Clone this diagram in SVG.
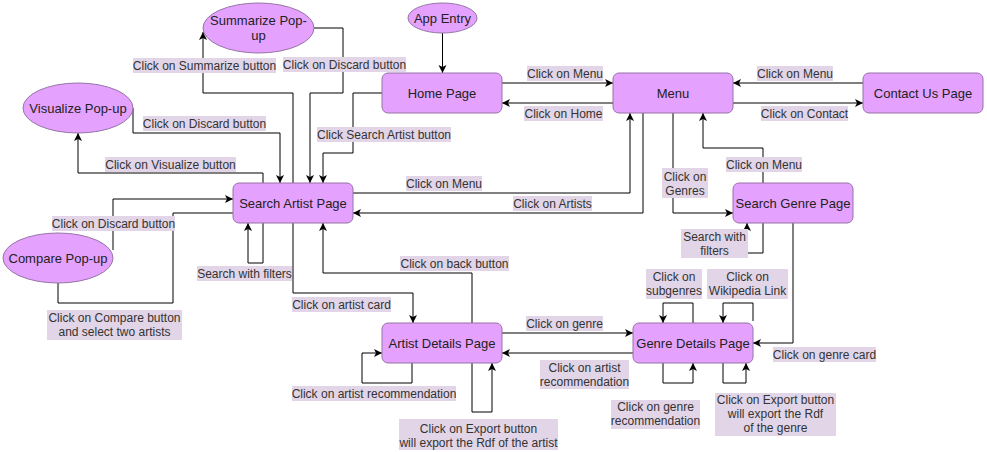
<svg xmlns="http://www.w3.org/2000/svg" width="987" height="452" viewBox="0 0 987 452">
<style>
.n{fill:#E5A1FE;stroke:#9673A6;stroke-width:1}
.nt{font-family:"Liberation Sans",Arial,sans-serif;font-size:13px;fill:#222;text-anchor:middle}
.e{fill:none;stroke:#000;stroke-width:1}
.a{marker-end:url(#arr)}
.lb{fill:#E1D5E7}
.lt{font-family:"Liberation Sans",Arial,sans-serif;font-size:12px;fill:#333;text-anchor:middle}
</style>
<defs>
<marker id="arr" markerUnits="userSpaceOnUse" markerWidth="10" markerHeight="10" refX="8" refY="4" orient="auto" viewBox="0 0 10 8">
<path d="M0,0 L8,4 L0,8 L2,4 Z" fill="#000"/>
</marker>
</defs>
<rect width="987" height="452" fill="#fff"/>
<g id="connectors">
<path class="e a" d="M442.5,33 V73"/>
<path class="e a" d="M502,83 H613"/>
<path class="e a" d="M613,103 H502"/>
<path class="e a" d="M863,83 H733"/>
<path class="e a" d="M733,103 H863"/>
<path class="e a" d="M314,28 H343 V93 H310 V183"/>
<path class="e a" d="M293,183 V93 H203 V32"/>
<path class="e a" d="M133,108 V133 H280 V183"/>
<path class="e a" d="M263,183 V173 H78 V133"/>
<path class="e a" d="M382,93 H353 V153 H323 V183"/>
<path class="e a" d="M353,193 H630 V113"/>
<path class="e a" d="M643,113 V213 H353"/>
<path class="e a" d="M673,113 V213 H733"/>
<path class="e a" d="M763,183 V148 H703 V113"/>
<path class="e a" d="M763,223 V253 H747 V223"/>
<path class="e a" d="M793,223 V343 H753"/>
<path class="e a" d="M263,223 V263 H248 V223"/>
<path class="e a" d="M113,250 V199 H233"/>
<path class="e" d="M233,213 H173 V303 H58 V283"/>
<path class="e a" d="M293,223 V293 H413 V323"/>
<path class="e a" d="M472,323 V273 H323 V223"/>
<path class="e a" d="M502,333 H633"/>
<path class="e a" d="M633,353 H502"/>
<path class="e a" d="M412,363 V383 H362 V353 H382"/>
<path class="e a" d="M472,363 V412 H492 V363"/>
<path class="e a" d="M693,323 V303 H663 V323"/>
<path class="e a" d="M753,321 V303 H723 V323"/>
<path class="e a" d="M663,363 V383 H693 V363"/>
<path class="e a" d="M723,363 V383 H746 V363"/>
</g>
<g id="edge-labels">
<rect class="lb" x="133" y="58" width="143" height="15"/><text class="lt" x="204.5" y="70">Click on Summarize button</text>
<rect class="lb" x="283" y="57" width="123" height="15"/><text class="lt" x="344.5" y="69">Click on Discard button</text>
<rect class="lb" x="143" y="116" width="123" height="15"/><text class="lt" x="204.5" y="128">Click on Discard button</text>
<rect class="lb" x="105" y="157" width="131" height="15"/><text class="lt" x="170.5" y="169">Click on Visualize button</text>
<rect class="lb" x="317" y="127" width="134" height="15"/><text class="lt" x="384" y="139">Click Search Artist button</text>
<rect class="lb" x="527" y="66" width="76" height="15"/><text class="lt" x="565" y="78">Click on Menu</text>
<rect class="lb" x="524" y="106" width="79" height="15"/><text class="lt" x="563.5" y="118">Click on Home</text>
<rect class="lb" x="757" y="66" width="76" height="15"/><text class="lt" x="795" y="78">Click on Menu</text>
<rect class="lb" x="761" y="106" width="87" height="15"/><text class="lt" x="804.5" y="118">Click on Contact</text>
<rect class="lb" x="406" y="176" width="76" height="15"/><text class="lt" x="444" y="188">Click on Menu</text>
<rect class="lb" x="513" y="196" width="79" height="15"/><text class="lt" x="552.5" y="208">Click on Artists</text>
<rect class="lb" x="662" y="168" width="46" height="30"/><text class="lt" x="685" y="181">Click on</text><text class="lt" x="685" y="195">Genres</text>
<rect class="lb" x="726" y="157" width="76" height="15"/><text class="lt" x="764" y="169">Click on Menu</text>
<rect class="lb" x="681" y="229" width="67" height="29"/><text class="lt" x="714.5" y="241">Search with</text><text class="lt" x="714.5" y="255">filters</text>
<rect class="lb" x="773" y="347" width="103" height="15"/><text class="lt" x="824.5" y="359">Click on genre card</text>
<rect class="lb" x="197" y="266" width="95" height="15"/><text class="lt" x="244.5" y="278">Search with filters</text>
<rect class="lb" x="52" y="216" width="123" height="15"/><text class="lt" x="113.5" y="228">Click on Discard button</text>
<rect class="lb" x="47" y="310" width="135" height="30"/><text class="lt" x="114.5" y="322">Click on Compare button</text><text class="lt" x="114.5" y="336">and select two artists</text>
<rect class="lb" x="292" y="297" width="99" height="15"/><text class="lt" x="341.5" y="309">Click on artist card</text>
<rect class="lb" x="400" y="256" width="109" height="15"/><text class="lt" x="454.5" y="268">Click on back button</text>
<rect class="lb" x="526" y="316" width="77" height="15"/><text class="lt" x="564.5" y="328">Click on genre</text>
<rect class="lb" x="540" y="360" width="89" height="29"/><text class="lt" x="584.5" y="372">Click on artist</text><text class="lt" x="584.5" y="386">recommendation</text>
<rect class="lb" x="292" y="386" width="164" height="15"/><text class="lt" x="374" y="398">Click on artist recommendation</text>
<rect class="lb" x="399" y="419" width="159" height="31"/><text class="lt" x="478.5" y="433">Click on Export button</text><text class="lt" x="478.5" y="447">will export the Rdf of the artist</text>
<rect class="lb" x="646" y="269" width="56" height="30"/><text class="lt" x="674" y="281">Click on</text><text class="lt" x="674" y="295">subgenres</text>
<rect class="lb" x="707" y="269" width="81" height="30"/><text class="lt" x="747.5" y="281">Click on</text><text class="lt" x="747.5" y="295">Wikipedia Link</text>
<rect class="lb" x="611" y="400" width="89" height="29"/><text class="lt" x="655.5" y="411">Click on genre</text><text class="lt" x="655.5" y="425">recommendation</text>
<rect class="lb" x="715" y="393" width="121" height="43"/><text class="lt" x="775.5" y="404">Click on Export button</text><text class="lt" x="775.5" y="418">will export the Rdf</text><text class="lt" x="775.5" y="432">of the genre</text>
</g>
<g id="summarize-popup"><ellipse class="n" cx="258.5" cy="28" rx="55.5" ry="25"/><text class="nt" x="258.5" y="25">Summarize Pop-</text><text class="nt" x="258.5" y="40">up</text></g>
<g id="app-entry"><ellipse class="n" cx="442.5" cy="18" rx="34.5" ry="15"/><text class="nt" x="442.5" y="22.5">App Entry</text></g>
<g id="home-page"><rect class="n" x="382" y="73" width="120" height="40" rx="6"/><text class="nt" x="442" y="97.5">Home Page</text></g>
<g id="menu"><rect class="n" x="613" y="73" width="120" height="40" rx="6"/><text class="nt" x="673" y="97.5">Menu</text></g>
<g id="contact-us-page"><rect class="n" x="863" y="73" width="120" height="40" rx="6"/><text class="nt" x="923" y="97.5">Contact Us Page</text></g>
<g id="visualize-popup"><ellipse class="n" cx="78" cy="108" rx="55" ry="25"/><text class="nt" x="78" y="112.5">Visualize Pop-up</text></g>
<g id="search-artist-page"><rect class="n" x="233" y="183" width="120" height="40" rx="6"/><text class="nt" x="293" y="207.5">Search Artist Page</text></g>
<g id="search-genre-page"><rect class="n" x="733" y="183" width="120" height="40" rx="6"/><text class="nt" x="793" y="207.5">Search Genre Page</text></g>
<g id="compare-popup"><ellipse class="n" cx="58" cy="258" rx="55" ry="25"/><text class="nt" x="58" y="262.5">Compare Pop-up</text></g>
<g id="artist-details-page"><rect class="n" x="382" y="323" width="120" height="40" rx="6"/><text class="nt" x="442" y="347.5">Artist Details Page</text></g>
<g id="genre-details-page"><rect class="n" x="633" y="323" width="120" height="40" rx="6"/><text class="nt" x="693" y="347.5">Genre Details Page</text></g>
</svg>
